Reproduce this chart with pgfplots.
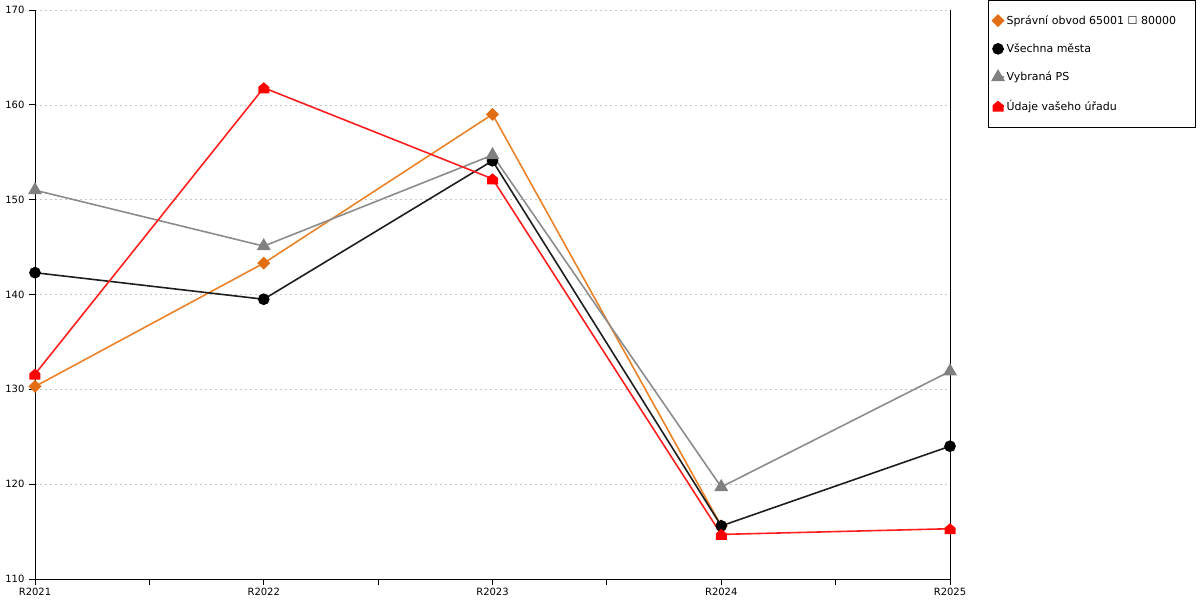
\documentclass[border=0pt]{standalone}
\usepackage{pgfplots}
\pgfplotsset{compat=1.18}
\usepackage{fontspec}
\setmainfont{DejaVu Sans}
\pgfdeclareplotmark{house}{%
  \pgfpathmoveto{\pgfqpoint{-\pgfplotmarksize}{-\pgfplotmarksize}}%
  \pgfpathlineto{\pgfqpoint{\pgfplotmarksize}{-\pgfplotmarksize}}%
  \pgfpathlineto{\pgfqpoint{\pgfplotmarksize}{0.15\pgfplotmarksize}}%
  \pgfpathlineto{\pgfqpoint{0pt}{\pgfplotmarksize}}%
  \pgfpathlineto{\pgfqpoint{-\pgfplotmarksize}{0.15\pgfplotmarksize}}%
  \pgfpathclose\pgfusepathqfill}
\definecolor{oline}{RGB}{235,130,40}
\definecolor{omark}{RGB}{225,110,20}
\definecolor{gline}{RGB}{140,140,140}
\definecolor{gmark}{RGB}{128,128,128}
\definecolor{kline}{RGB}{30,30,30}
\definecolor{rline}{RGB}{255,30,30}
\begin{document}
\begin{tikzpicture}
\path[use as bounding box] (-35pt,-21pt) rectangle (1165pt,579pt);
\begin{axis}[
  at={(0pt,0pt)}, anchor=south west,
  scale only axis, width=915pt, height=569pt,
  xmin=0, xmax=4, ymin=110, ymax=170,
  axis x line=bottom, axis y line=left,
  axis line style={-, line width=0.8pt},
  xtick={0,1,2,3,4}, xticklabels={R2021,R2022,R2023,R2024,R2025},
  minor xtick={0.5,1.5,2.5,3.5},
  ytick={110,120,...,170},
  tick align=outside, major tick length=6pt, minor tick length=6pt,
  tick style={black, line width=0.8pt},
  every tick label/.append style={font=\fontsize{10}{12}\selectfont},
  /pgf/number format/assume math mode=true,
  xticklabel style={yshift=0pt},
  yticklabel style={xshift=-1pt},
  ymajorgrids, major grid style={dash pattern=on 2pt off 3pt, gray!45, line width=0.6pt},
  clip=false,
  legend cell align=left,
  legend style={at={(1,1)}, anchor=north west, xshift=38pt, yshift=10pt,
    draw=black, line width=0.8pt, font=\fontsize{11}{13}\selectfont,
    row sep=14pt, inner xsep=4pt, inner ysep=13pt},
  legend image code/.code={\path (0cm,0cm) -- (0.3cm,0cm); \draw[#1, only marks] plot coordinates {(0.1cm,0cm)};},
]
\addplot[oline, line width=1.6pt, mark=square*, mark size=3.8pt, mark options={rotate=45, fill=omark, draw=omark}]
  coordinates {(0,130.3) (1,143.3) (2,159.0) (3,115.6)};
\addlegendentry{\makebox[183pt][l]{Správní obvod 65001 ☐ 80000}}
\addplot[kline, line width=1.6pt, mark=*, mark size=5pt, mark options={fill=black, draw=black}]
  coordinates {(0,142.3) (1,139.5) (2,154.1) (3,115.6) (4,124.0)};
\addlegendentry{Všechna města}
\addplot[gline, line width=1.6pt, mark=triangle*, mark size=6.5pt, mark options={fill=gmark, draw=gmark}]
  coordinates {(0,151.0) (1,145.1) (2,154.7) (3,119.7) (4,131.9)};
\addlegendentry{Vybraná PS}
\addplot[rline, line width=1.6pt, mark=house, mark size=5.5pt, mark options={fill=red, draw=red}]
  coordinates {(0,131.6) (1,161.8) (2,152.2) (3,114.7) (4,115.3)};
\addlegendentry{Údaje vašeho úřadu}
\draw[black, line width=0.8pt] (rel axis cs:1,0) -- (rel axis cs:1,1);
\end{axis}
\end{tikzpicture}
\end{document}
